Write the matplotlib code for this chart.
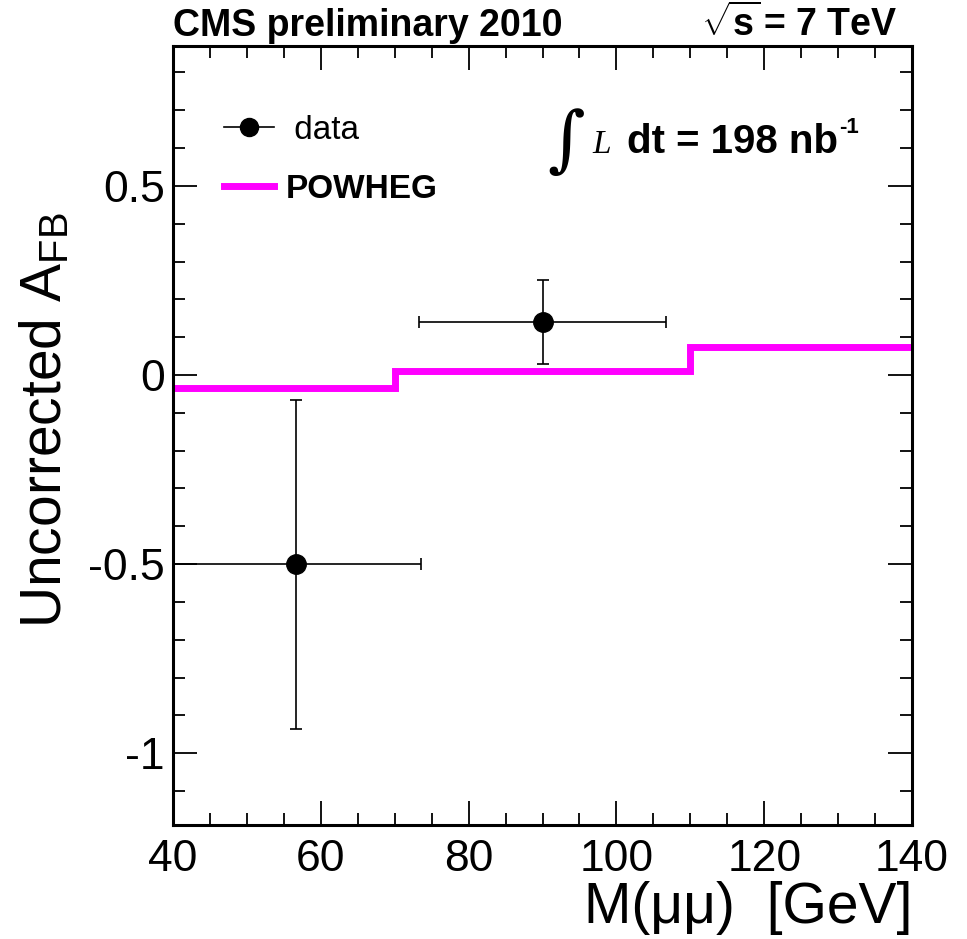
import numpy as np
import matplotlib
matplotlib.use("Agg")
import matplotlib.pyplot as plt
from matplotlib.lines import Line2D
from matplotlib.ticker import MultipleLocator

plt.rcParams['font.family'] = ['Liberation Sans', 'DejaVu Sans']
plt.rcParams['mathtext.fontset'] = 'custom'
plt.rcParams['mathtext.rm'] = 'Liberation Sans'
plt.rcParams['mathtext.bf'] = 'Liberation Sans:bold'
plt.rcParams['mathtext.it'] = 'Liberation Serif:italic'

# data points
mass = [56.7, 90.0]
mass_err = [16.8, 16.7]
afb = [-0.50, 0.14]
afb_err = [0.435, 0.11]

# POWHEG prediction (step histogram)
bin_edges = [40, 70, 110, 140]
powheg = [-0.035, 0.01, 0.075]

W, H = 967, 939
fig = plt.figure(figsize=(W / 100, H / 100), dpi=100)
ax = fig.add_axes([173 / W, 114 / H, 739 / W, 779 / H])

ax.stairs(powheg, bin_edges, color='#ff00ff', linewidth=5, baseline=None, zorder=2)
ax.errorbar(mass, afb, xerr=mass_err, yerr=afb_err, fmt='o', color='black',
            markersize=14, elinewidth=1.2, capsize=4.5, capthick=1.2, zorder=3)

ax.set_xlim(40, 140)
ax.set_ylim(-1.19, 0.87)
ax.xaxis.set_major_locator(MultipleLocator(20))
ax.xaxis.set_minor_locator(MultipleLocator(5))
ax.yaxis.set_major_locator(MultipleLocator(0.5))
ax.yaxis.set_minor_locator(MultipleLocator(0.1))
ax.yaxis.set_major_formatter(matplotlib.ticker.FuncFormatter(lambda v, p: '0' if abs(v) < 1e-9 else f'{v:g}'))
ax.tick_params(which='both', direction='in', top=True, right=True, width=1.3, labelsize=32)
ax.tick_params(which='major', length=17)
ax.tick_params(which='minor', length=8.5)
ax.tick_params(axis='x', pad=10)
ax.tick_params(axis='y', pad=6)
for s in ax.spines.values():
    s.set_linewidth(2.2)

ax.set_xlabel('M(\u03bc\u03bc)  [GeV]', fontsize=41, ha='right')
ax.xaxis.set_label_coords(1.0, -0.072)
ax.set_ylabel(r'Uncorrected A$_{\rm FB}$', fontsize=41, va='center')
ax.yaxis.set_label_coords(-0.172, 0.52)

# legend
handles = [Line2D([], [], color='black', marker='o', markersize=13, linewidth=1.2),
           Line2D([], [], color='#ff00ff', linewidth=5)]
leg = ax.legend(handles, [' data', 'POWHEG'], loc='upper left', frameon=False,
                fontsize=24, handlelength=1.5, handletextpad=0.35, labelspacing=0.84,
                bbox_to_anchor=(0.028, 0.95))
leg.get_texts()[1].set_fontweight('bold')

# header texts
fig.text(173 / W, 1 - 36 / H, 'CMS preliminary 2010', fontsize=27, fontweight='bold', va='baseline')
fig.text(897 / W, 1 - 36 / H, r'$\sqrt{\mathbf{s}}\,$= 7 TeV', fontsize=27, fontweight='bold',
         va='baseline', ha='right')

# integrated luminosity
fig.text(566 / W, 1 - 143 / H, '\u222b', fontsize=52, family='DejaVu Serif', ha='center', va='center')
fig.text(592 / W, 1 - 153 / H, 'L', fontsize=24, family='Liberation Serif', style='italic', va='baseline')
fig.text(627 / W, 1 - 153 / H, 'dt = 198 nb', fontsize=29, fontweight='bold', va='baseline')
fig.text(839 / W, 1 - 133 / H, '-1', fontsize=16, fontweight='bold', va='baseline')

fig.savefig('out.png', dpi=100)
